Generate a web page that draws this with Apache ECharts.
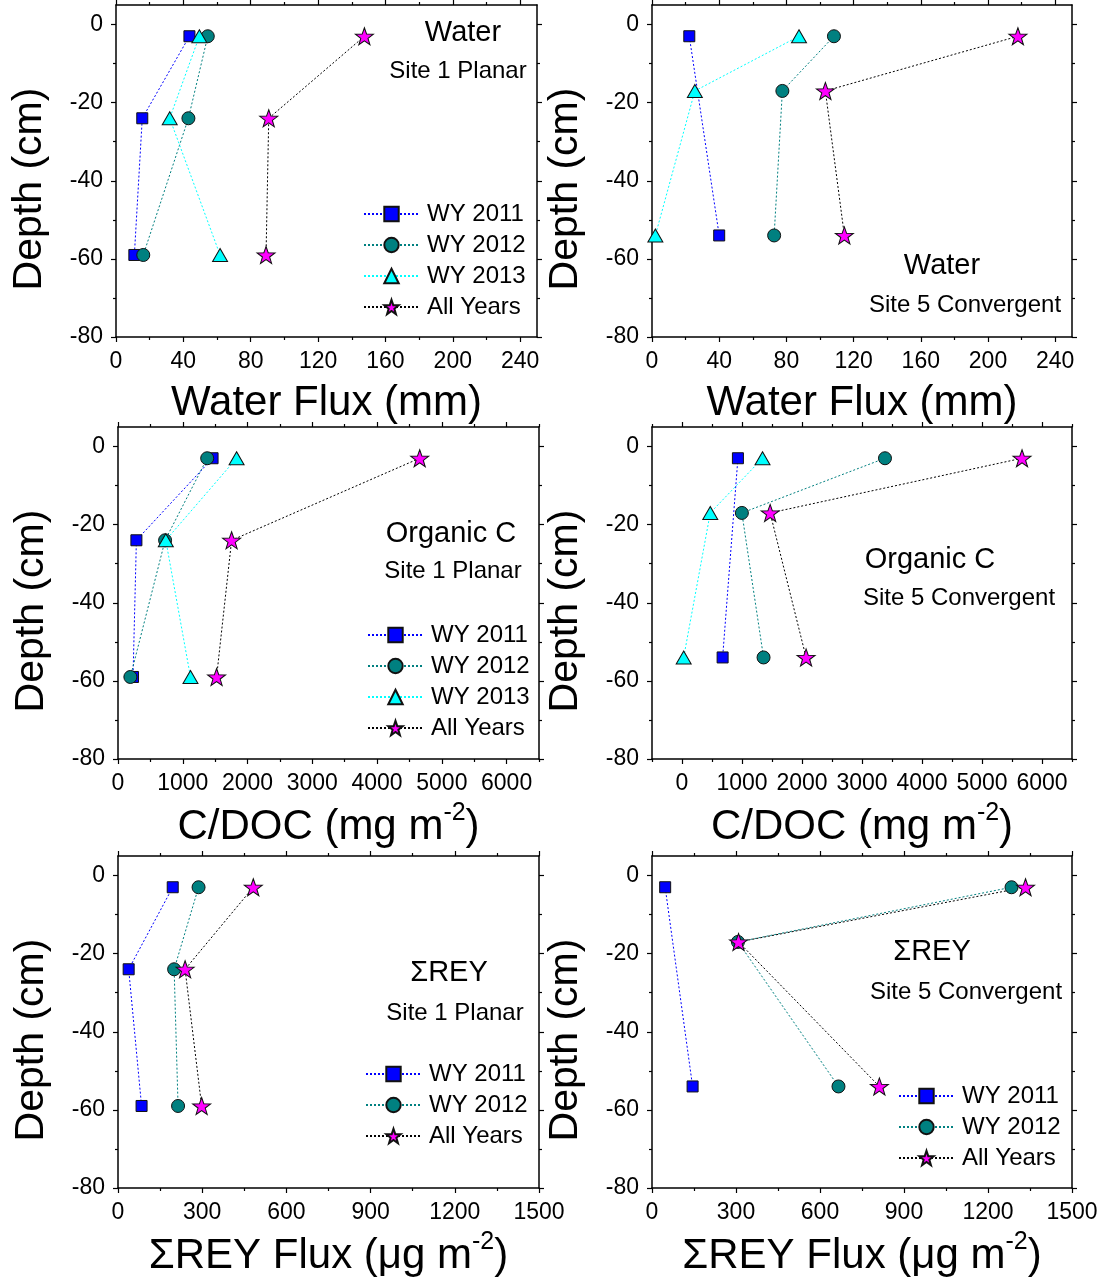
<!DOCTYPE html>
<html>
<head>
<meta charset="utf-8">
<title>Depth profiles</title>
<script src="https://cdn.jsdelivr.net/npm/echarts@6/dist/echarts.min.js"></script>
<style>
  html, body { margin: 0; padding: 0; background: #fff; }
  #chart { width: 1112px; height: 1281px; }
</style>
</head>
<body>
<div id="chart"></div>
<script>
// depths of the lysimeters (cm)
var depthSite1 = [-3, -24, -59]
var depthSite5 = [-3, -17, -54]

// water flux (mm)
var waterS1_2011 = [43.6, 15.6, 10.9]
var waterS1_2012 = [54.5, 43, 16.2]
var waterS1_2013 = [49.5, 31.9, 61.8]
var waterS1_all = [147.5, 90.7, 89.1]
var waterS5_2011 = [22.2, null, 40]
var waterS5_2012 = [108.3, 77.6, 72.7]
var waterS5_2013 = [87.5, 25.5, 2]
var waterS5_all = [217.8, 103.2, 114.5]

// C/DOC flux (mg m-2)
var docS1_2011 = [1460, 284, 232]
var docS1_2012 = [1377, 727, 191]
var docS1_2013 = [1831, 738, 1119]
var docS1_all = [4658, 1754, 1522]
var docS5_2011 = [932, null, 677]
var docS5_2012 = [3383, 998, 1359]
var docS5_2013 = [1342, 471, 28]
var docS5_all = [5667, 1469, 2068]

// sum REY flux (ug m-2)
var reyS1_2011 = [195, 38, 84]
var reyS1_2012 = [287, 200, 214]
var reyS1_all = [482, 239, 298]
var reyS5_2011 = [47, null, 145]
var reyS5_2012 = [1284, 307, 666]
var reyS5_all = [1334, 309, 812]

// tick labels
var depthTicks = [0, -20, -40, -60, -80]
var depthMinor = [-10, -30, -50, -70]
var waterTicks = [0, 40, 80, 120, 160, 200, 240]
var waterMinor = [20, 60, 100, 140, 180, 220]
var docTicks = [0, 1000, 2000, 3000, 4000, 5000, 6000]
var docMinor = [-500, 500, 1500, 2500, 3500, 4500, 5500, 6500]
var reyTicks = [0, 300, 600, 900, 1200, 1500]
var reyMinor = [150, 450, 750, 1050, 1350]

var FONT = '"Liberation Sans", Arial, Helvetica, sans-serif'
var STAR = 'path://M50,0 L61.76,33.82 L97.55,34.55 L69.02,56.18 L79.39,90.45 L50,70 L20.61,90.45 L30.98,56.18 L2.45,34.55 L38.24,33.82 Z'

var looks = {
  'WY 2011': { symbol: 'rect', size: 11, fill: '#0000ff', line: '#0000ff' },
  'WY 2012': { symbol: 'circle', size: 13, fill: '#008080', line: '#008080' },
  'WY 2013': { symbol: 'triangle', size: [15, 13], fill: '#00ffff', line: '#00ffff' },
  'All Years': { symbol: STAR, size: [18, 17], fill: '#ff00ff', line: '#000000' }
}

var waterName = 'Water Flux (mm)'
var docName = '{a|C/DOC (mg m}{s|-2}{a|)}'
var reyName = '{a|\u03a3REY Flux (\u03bcg m}{s|-2}{a|)}'

var panels = [
  {
    rect: { left: 116, top: 5, width: 421, height: 332 },
    xMin: 0, xMax: 250, xTicks: waterTicks, xMinor: waterMinor, xName: waterName, xGap: 45,
    depth: depthSite1,
    series: [['WY 2011', waterS1_2011], ['WY 2012', waterS1_2012], ['WY 2013', waterS1_2013], ['All Years', waterS1_all]],
    legend: { left: 363, top: 202 },
    notes: [['Water', 463, 33, 29], ['Site 1 Planar', 458, 71, 24]]
  },
  {
    rect: { left: 652, top: 5, width: 420, height: 332 },
    xMin: 0, xMax: 250, xTicks: waterTicks, xMinor: waterMinor, xName: waterName, xGap: 45,
    depth: depthSite5,
    series: [['WY 2011', waterS5_2011], ['WY 2012', waterS5_2012], ['WY 2013', waterS5_2013], ['All Years', waterS5_all]],
    legend: null,
    notes: [['Water', 942, 266, 29], ['Site 5 Convergent', 965, 305, 24]]
  },
  {
    rect: { left: 118, top: 427, width: 421, height: 332 },
    xMin: 0, xMax: 6500, xTicks: docTicks, xMinor: docMinor, xName: docName, xGap: 42,
    depth: depthSite1,
    series: [['WY 2011', docS1_2011], ['WY 2012', docS1_2012], ['WY 2013', docS1_2013], ['All Years', docS1_all]],
    legend: { left: 367, top: 623 },
    notes: [['Organic C', 451, 534, 29], ['Site 1 Planar', 453, 571, 24]]
  },
  {
    rect: { left: 652, top: 427, width: 420, height: 332 },
    xMin: -500, xMax: 6500, xTicks: docTicks, xMinor: docMinor, xName: docName, xGap: 42,
    depth: depthSite5,
    series: [['WY 2011', docS5_2011], ['WY 2012', docS5_2012], ['WY 2013', docS5_2013], ['All Years', docS5_all]],
    legend: null,
    notes: [['Organic C', 930, 560, 29], ['Site 5 Convergent', 959, 598, 24]]
  },
  {
    rect: { left: 118, top: 856, width: 421, height: 332 },
    xMin: 0, xMax: 1500, xTicks: reyTicks, xMinor: reyMinor, xName: reyName, xGap: 42,
    depth: depthSite1,
    series: [['WY 2011', reyS1_2011], ['WY 2012', reyS1_2012], ['All Years', reyS1_all]],
    legend: { left: 365, top: 1062 },
    notes: [['\u03a3REY', 449, 973, 29], ['Site 1 Planar', 455, 1013, 24]]
  },
  {
    rect: { left: 652, top: 856, width: 420, height: 332 },
    xMin: 0, xMax: 1500, xTicks: reyTicks, xMinor: reyMinor, xName: reyName, xGap: 42,
    depth: depthSite5,
    series: [['WY 2011', reyS5_2011], ['WY 2012', reyS5_2012], ['All Years', reyS5_all]],
    legend: { left: 898, top: 1084 },
    notes: [['\u03a3REY', 932, 952, 29], ['Site 5 Convergent', 966, 992, 24]]
  }
]

function within(vals, lo, hi) {
  return vals.filter(function (v) { return v >= lo && v <= hi })
}

// an axis that only draws ticks (and optionally its line)
function tickAxis(gridIndex, position, min, max, values, len, showLine) {
  return {
    type: 'value',
    gridIndex: gridIndex,
    position: position,
    min: min,
    max: max,
    axisLine: { show: !!showLine, onZero: false, lineStyle: { color: '#000', width: 1.5 } },
    axisTick: { show: true, length: len, customValues: within(values, min, max), lineStyle: { color: '#000', width: 1.2 } },
    axisLabel: { show: false },
    splitLine: { show: false }
  }
}

function labelStyle(values, min, max, margin) {
  return {
    show: true,
    customValues: within(values, min, max),
    margin: margin,
    fontSize: 23,
    fontFamily: FONT,
    color: '#000',
    // plain numbers, no thousands separator
    formatter: function (v) { return String(v) }
  }
}

var option = {
  animation: false,
  backgroundColor: '#fff',
  grid: [],
  xAxis: [],
  yAxis: [],
  series: [],
  legend: [],
  graphic: []
}

panels.forEach(function (p, i) {
  option.grid.push(Object.assign({ show: false }, p.rect))

  var xIndex = option.xAxis.length
  var xMain = tickAxis(i, 'bottom', p.xMin, p.xMax, p.xTicks, 5, true)
  xMain.axisLabel = labelStyle(p.xTicks, p.xMin, p.xMax, 13)
  xMain.name = p.xName
  xMain.nameLocation = 'middle'
  xMain.nameGap = p.xGap
  xMain.nameTextStyle = {
    fontSize: 42, fontFamily: FONT, color: '#000',
    rich: {
      a: { fontSize: 42, fontFamily: FONT, color: '#000', lineHeight: 52 },
      s: { fontSize: 25, fontFamily: FONT, color: '#000', lineHeight: 26, verticalAlign: 'top' }
    }
  }
  option.xAxis.push(
    xMain,
    tickAxis(i, 'bottom', p.xMin, p.xMax, p.xMinor, 3),
    tickAxis(i, 'top', p.xMin, p.xMax, p.xTicks, 5, true),
    tickAxis(i, 'top', p.xMin, p.xMax, p.xMinor, 3)
  )

  var yIndex = option.yAxis.length
  var yMain = tickAxis(i, 'left', -80, 5, depthTicks, 5, true)
  yMain.axisLabel = labelStyle(depthTicks, -80, 5, 13)
  yMain.name = 'Depth (cm)'
  yMain.nameLocation = 'middle'
  yMain.nameGap = 66
  yMain.nameTextStyle = { fontSize: 41, fontFamily: FONT, color: '#000', padding: [0, 36, 0, 0] }
  option.yAxis.push(
    yMain,
    tickAxis(i, 'left', -80, 5, depthMinor, 3),
    tickAxis(i, 'right', -80, 5, depthTicks, 5, true),
    tickAxis(i, 'right', -80, 5, depthMinor, 3)
  )

  p.series.forEach(function (s) {
    var look = looks[s[0]]
    var pts = []
    s[1].forEach(function (v, k) {
      if (v !== null) pts.push([v, p.depth[k]])
    })
    option.series.push({
      name: s[0],
      type: 'line',
      xAxisIndex: xIndex,
      yAxisIndex: yIndex,
      data: pts,
      symbol: look.symbol,
      symbolSize: look.size,
      itemStyle: { color: look.fill, borderColor: '#111', borderWidth: 1, opacity: 1 },
      lineStyle: { color: look.line, width: 1, type: [2, 2] },
      emphasis: { disabled: true }
    })
  })

  if (p.legend) {
    option.legend.push({
      orient: 'vertical',
      left: p.legend.left,
      top: p.legend.top,
      padding: 0,
      itemWidth: 55,
      itemHeight: 18,
      itemGap: 7,
      selectedMode: false,
      data: p.series.map(function (s) { return s[0] }),
      textStyle: { fontSize: 24, fontFamily: FONT, color: '#000', lineHeight: 24, padding: [0, 0, 0, 3] }
    })
  }

  p.notes.forEach(function (n) {
    option.graphic.push({
      type: 'text',
      x: n[1],
      y: n[2],
      style: {
        text: n[0],
        fontSize: n[3],
        fontFamily: FONT,
        fill: '#000',
        align: 'center',
        verticalAlign: 'middle'
      }
    })
  })
})

var myChart = echarts.init(document.getElementById('chart'))
myChart.setOption(option)
window.addEventListener('resize', function () {
  myChart.resize()
})
</script>
</body>
</html>
